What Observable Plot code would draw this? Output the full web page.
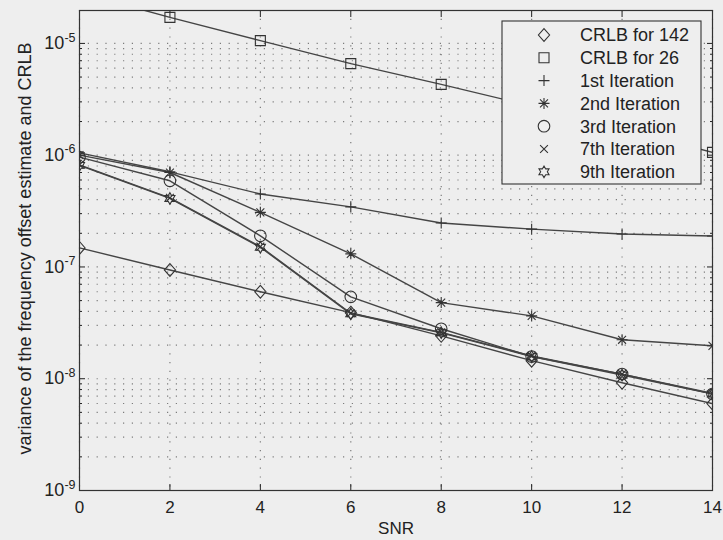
<!DOCTYPE html>
<html><head><meta charset="utf-8">
<script src="https://cdn.jsdelivr.net/npm/d3@7"></script>
<script src="https://cdn.jsdelivr.net/npm/@observablehq/plot@0.6"></script>
<style>
html,body{margin:0;padding:0;background:#eeeeee;}
#chart{width:723px;height:540px;}
</style></head><body><div id="chart"></div>
<script>
// ---- data ----
const snr = [0, 2, 4, 6, 8, 10, 12, 14];
const seriesNames = ["CRLB for 142", "CRLB for 26", "1st Iteration", "2nd Iteration", "3rd Iteration", "7th Iteration", "9th Iteration"];
const crlb142 = [1.48e-7, 9.4e-8, 6.0e-8, 3.9e-8, 2.42e-8, 1.45e-8, 9.2e-9, 6.0e-9];
const crlb26  = [2.85e-5, 1.71e-5, 1.06e-5, 6.6e-6, 4.3e-6, 2.75e-6, 1.72e-6, 1.06e-6];
const iter1   = [1.05e-6, 7.1e-7, 4.5e-7, 3.45e-7, 2.47e-7, 2.18e-7, 1.97e-7, 1.89e-7];
const iter2   = [1.0e-6, 7.0e-7, 3.08e-7, 1.31e-7, 4.8e-8, 3.65e-8, 2.23e-8, 1.97e-8];
const iter3   = [9.6e-7, 5.9e-7, 1.9e-7, 5.4e-8, 2.8e-8, 1.58e-8, 1.1e-8, 7.3e-9];
const iter7   = [8.2e-7, 4.15e-7, 1.52e-7, 3.85e-8, 2.6e-8, 1.6e-8, 1.1e-8, 7.4e-9];
const iter9   = [8.1e-7, 4.1e-7, 1.5e-7, 3.8e-8, 2.58e-8, 1.58e-8, 1.08e-8, 7.3e-9];
const seriesValues = [crlb142, crlb26, iter1, iter2, iter3, iter7, iter9];
const xTicks = [0, 2, 4, 6, 8, 10, 12, 14];
const yMajor = [1e-9, 1e-8, 1e-7, 1e-6, 1e-5];
const yMinorMult = [2, 3, 4, 5, 6, 7, 8, 9];
const yDomain = [1e-9, 1.97e-5];
const xLabel = "SNR";
const yLabel = "variance of the frequency offset estimate and CRLB";

const yMinor = [];
yMajor.forEach(d => yMinorMult.forEach(m => { const v = d * m; if (v < yDomain[1]) yMinor.push(v); }));
const yGrid = [...yMajor, ...yMinor];

const rows = [];
seriesNames.forEach((name, i) => seriesValues[i].forEach((v, j) => rows.push({series: name, snr: snr[j], v})));

// ---- marker symbols (MATLAB style) ----
const R = s => Math.sqrt(s / Math.PI);
const symDiamond = {draw(c, s) { const r = R(s), h = r * 1.15; c.moveTo(0, -h); c.lineTo(r, 0); c.lineTo(0, h); c.lineTo(-r, 0); c.closePath(); }};
const symSquare = {draw(c, s) { const r = R(s); c.moveTo(-r, -r); c.lineTo(r, -r); c.lineTo(r, r); c.lineTo(-r, r); c.closePath(); }};
const symPlus = {draw(c, s) { const r = R(s); c.moveTo(-r, 0); c.lineTo(r, 0); c.moveTo(0, -r); c.lineTo(0, r); }};
const symAsterisk = {draw(c, s) { const r = R(s), d = r * 0.72; c.moveTo(-r, 0); c.lineTo(r, 0); c.moveTo(0, -r); c.lineTo(0, r); c.moveTo(-d, -d); c.lineTo(d, d); c.moveTo(-d, d); c.lineTo(d, -d); }};
const symCircle = {draw(c, s) { const r = R(s); c.moveTo(r, 0); c.arc(0, 0, r, 0, 2 * Math.PI); }};
const symTimes = {draw(c, s) { const r = R(s) * 0.75; c.moveTo(-r, -r); c.lineTo(r, r); c.moveTo(-r, r); c.lineTo(r, -r); }};
const symHexagram = {draw(c, s) { const r = R(s), ri = r / Math.sqrt(3);
  for (let k = 0; k < 12; k++) { const a = -Math.PI / 2 + k * Math.PI / 6, rr = k % 2 ? ri : r; const px = rr * Math.cos(a), py = rr * Math.sin(a); if (k) c.lineTo(px, py); else c.moveTo(px, py); } c.closePath(); }};
const symbols = [symDiamond, symSquare, symPlus, symAsterisk, symCircle, symTimes, symHexagram];
const radii = [5.6, 5, 5.5, 5.5, 5.8, 5.2, 5.8];

const lineColor = "#454545";
const markColor = "#333333";
const bg = "#eeeeee";
const font = "'Liberation Sans', Arial, Helvetica, sans-serif";

// ---- legend (drawn inside the frame, top-right) ----
function legendMark(index, scales, values, dims) {
  const {width, marginRight, marginTop} = dims;
  const bw = 199, bh = 163;
  const x0 = width - marginRight - 11 - bw, y0 = marginTop + 11;
  const g = d3.create("svg:g").attr("font-family", font).attr("font-size", 18).attr("fill", "#222").attr("text-anchor", "start");
  g.append("rect").attr("x", x0).attr("y", y0).attr("width", bw).attr("height", bh)
    .attr("fill", bg).attr("stroke", "#333").attr("stroke-width", 1.1);
  seriesNames.forEach((name, i) => {
    const yy = y0 + 14 + i * 22.8;
    g.append("path").attr("d", d3.symbol(symbols[i], Math.PI * radii[i] * radii[i])())
      .attr("transform", `translate(${x0 + 42},${yy})`)
      .attr("fill", "none").attr("stroke", markColor).attr("stroke-width", 1.1);
    g.append("text").attr("x", x0 + 78).attr("y", yy).attr("dy", "0.36em").attr("text-anchor", "start").text(name);
  });
  return g.node();
}

const marks = [
  Plot.gridY(yGrid, {stroke: "#555", strokeOpacity: 0.75, strokeWidth: 1.2, strokeDasharray: "1.2,7.6"}),
  Plot.gridX(xTicks, {stroke: "#555", strokeOpacity: 0.75, strokeWidth: 1.2, strokeDasharray: "1.2,7.6"}),
  Plot.axisX(xTicks, {anchor: "bottom", tickSize: -6, tickPadding: 16, fontSize: 17, label: null, tickFormat: d => String(d)}),
  Plot.axisX(xTicks, {anchor: "top", tickSize: -6, tickFormat: () => "", label: null}),
  Plot.axisY(yMajor, {anchor: "left", tickSize: -6, tickPadding: 10, fontSize: 18, label: null, tickFormat: d => "10^" + Math.round(Math.log10(d))}),
  Plot.axisY(yMajor, {anchor: "right", tickSize: -6, tickFormat: () => "", label: null}),
  Plot.axisY(yMinor, {anchor: "left", tickSize: -3, tickFormat: () => "", label: null}),
  Plot.axisY(yMinor, {anchor: "right", tickSize: -3, tickFormat: () => "", label: null}),
  Plot.line(rows, {x: "snr", y: "v", z: "series", stroke: lineColor, strokeWidth: 1.4, clip: true}),
  ...seriesNames.map((name, i) => Plot.dot(rows.filter(d => d.series === name), {
    x: "snr", y: "v", symbol: symbols[i], r: radii[i], fill: "none", stroke: markColor, strokeWidth: 1.1, clip: true
  })),
  Plot.frame({stroke: "#333", strokeWidth: 1.2}),
  legendMark,
  Plot.text([xLabel], {frameAnchor: "bottom", lineAnchor: "middle", textAnchor: "middle", dy: 38, fontSize: 17, fill: "#222", text: d => d}),
  Plot.text([yLabel], {frameAnchor: "left", textAnchor: "middle", lineAnchor: "middle", rotate: -90, dx: -54, dy: -2, fontSize: 18, fill: "#222", text: d => d})
];

const chart = Plot.plot({
  width: 723, height: 540,
  marginLeft: 79, marginRight: 11, marginTop: 10, marginBottom: 50,
  x: {domain: [0, 14]},
  y: {type: "log", domain: yDomain},
  style: {background: bg, fontFamily: font, color: "#222", overflow: "visible"},
  marks
});

// font sizes of tick labels
d3.select(chart).selectAll('g[aria-label="x-axis tick label"]').attr("font-size", 17).selectAll("text").attr("font-size", 17);
const yl = d3.select(chart).selectAll('g[aria-label="y-axis tick label"]');
yl.attr("font-size", 18);
// superscript exponents for the log tick labels
yl.selectAll("text").each(function () {
  const t = this.textContent;
  if (!t.startsWith("10^")) return;
  const e = t.slice(3);
  this.textContent = "";
  const s = d3.select(this).attr("font-size", 18);
  s.append("tspan").attr("font-size", 18).text("10");
  s.append("tspan").attr("dy", "-0.6em").attr("font-size", 12.5).text(e);
});

document.getElementById("chart").appendChild(chart);
</script>
</body></html>
